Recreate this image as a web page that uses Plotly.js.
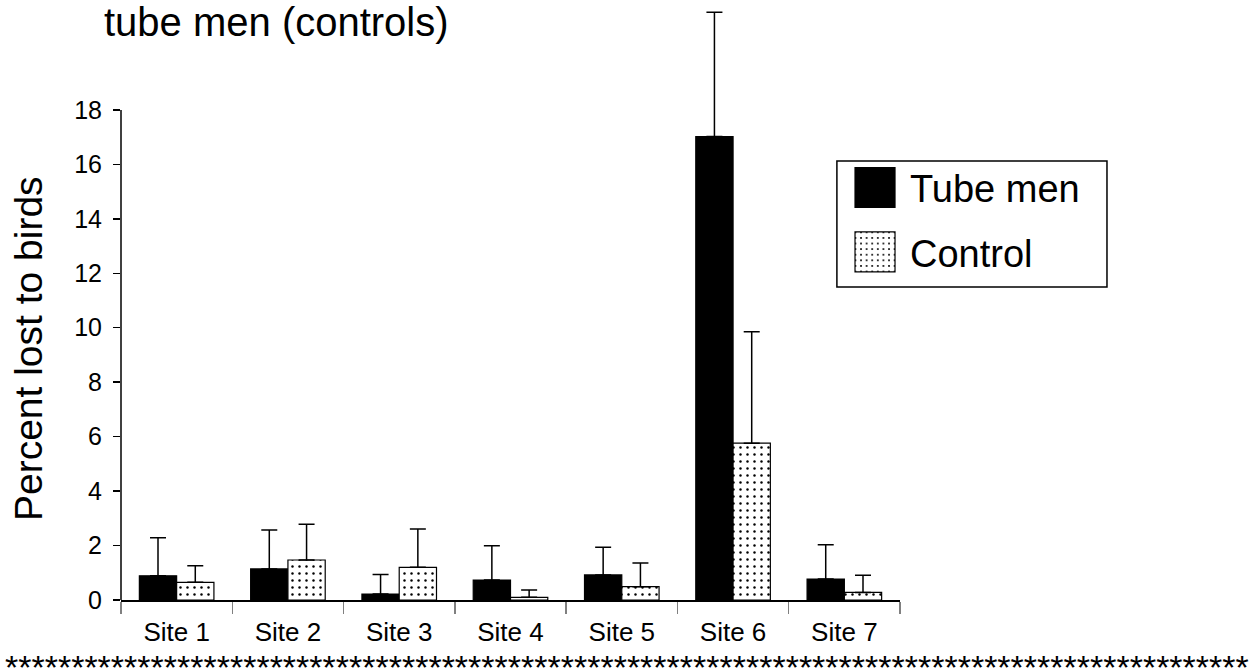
<!DOCTYPE html>
<html>
<head>
<meta charset="utf-8">
<script src="https://cdn.plot.ly/plotly-3.0.1.min.js"></script>
<style>
html, body { margin: 0; padding: 0; background: #fff; }
#chart { width: 1253px; height: 671px; }
</style>
</head>
<body>
<div id="chart"></div>
<script>
const sites = ['Site 1', 'Site 2', 'Site 3', 'Site 4', 'Site 5', 'Site 6', 'Site 7'];
const tubeMen = [0.89, 1.14, 0.22, 0.73, 0.92, 17.02, 0.77];
const tubeMenErr = [1.40, 1.43, 0.72, 1.26, 1.02, 4.57, 1.26];
const control = [0.65, 1.47, 1.20, 0.10, 0.49, 5.76, 0.28];
const controlErr = [0.61, 1.31, 1.41, 0.27, 0.87, 4.09, 0.63];
const yTicks = [0, 2, 4, 6, 8, 10, 12, 14, 16, 18];
const seriesNames = ['Tube men', 'Control'];
const chartTitle = 'tube men (controls)';
const yTitle = 'Percent lost to birds';
const separator = '**********************************************************************************************';

const FONT = '"Liberation Sans", Arial, Helvetica, sans-serif';
const yMax = yTicks[yTicks.length - 1];

const traces = [
  {
    type: 'bar', name: seriesNames[0], x: sites, y: tubeMen,
    legendgroup: 'a',
    marker: { color: '#000000', line: { color: '#000000', width: 1.2 } },
    error_y: { type: 'data', array: tubeMenErr, arrayminus: tubeMen.map(() => 0), symmetric: false,
               color: '#000000', thickness: 1.5, width: 8 },
    cliponaxis: false
  },
  {
    type: 'bar', name: seriesNames[1], x: sites, y: control,
    legendgroup: 'b',
    marker: { color: '#ffffff', line: { color: '#000000', width: 1.2 },
              pattern: { shape: '.', fgcolor: '#000000', bgcolor: '#ffffff', size: 7, solidity: 0.1 } },
    error_y: { type: 'data', array: controlErr, arrayminus: control.map(() => 0), symmetric: false,
               color: '#000000', thickness: 1.5, width: 8 },
    cliponaxis: false
  }
];

const layout = {
  width: 1253, height: 671,
  margin: { l: 121, r: 353, t: 10, b: 71 },
  paper_bgcolor: '#ffffff', plot_bgcolor: '#ffffff',
  font: { family: FONT, color: '#000000' },
  title: {
    text: chartTitle, font: { family: FONT, size: 40, color: '#000000' },
    xref: 'container', x: 0.083, xanchor: 'left',
    yref: 'container', y: 0.967, yanchor: 'middle'
  },
  barmode: 'group', bargap: 0.33, bargroupgap: 0,
  showlegend: true,
  legend: {
    x: 0.923, xanchor: 'left', y: 0.752, yanchor: 'top',
    xref: 'paper', yref: 'paper',
    bgcolor: 'rgba(0,0,0,0)', borderwidth: 0,
    font: { family: FONT, size: 38, color: '#000000' },
    itemwidth: 60, tracegroupgap: 12, traceorder: 'grouped'
  },
  xaxis: {
    type: 'category', tickson: 'boundaries', ticks: 'outside', ticklen: 12,
    tickcolor: '#808080', tickwidth: 1.5,
    showline: true, linecolor: '#000000', linewidth: 1.5,
    showgrid: false, zeroline: false,
    ticklabelstandoff: 8,
    tickfont: { family: FONT, size: 26, color: '#000000' }
  },
  yaxis: {
    range: [0, 21.67], tickvals: yTicks, ticktext: yTicks.map(String),
    ticks: 'outside', ticklen: 7, tickwidth: 1.5, tickcolor: '#000000',
    showline: false, showgrid: false, zeroline: false,
    ticklabelstandoff: 6,
    tickfont: { family: FONT, size: 25, color: '#000000' }
  },
  shapes: [
    { type: 'line', xref: 'paper', yref: 'y', x0: 0, x1: 0, y0: 0, y1: yMax,
      line: { color: '#000000', width: 1.5 } },
    { type: 'rect', xref: 'paper', yref: 'paper', x0: 0.919, x1: 1.2657, y0: 0.5305, y1: 0.744,
      line: { color: '#000000', width: 1.5 }, fillcolor: 'rgba(0,0,0,0)' }
  ],
  annotations: [
    {
      text: yTitle, textangle: -90, xref: 'paper', yref: 'paper', x: -0.1194, y: 0.427,
      xanchor: 'center', yanchor: 'middle', showarrow: false,
      font: { family: FONT, size: 39, color: '#000000' }
    },
    {
      text: separator, xref: 'paper', yref: 'paper', x: 0.649, y: -0.1136,
      xanchor: 'center', yanchor: 'middle', showarrow: false,
      font: { family: FONT, size: 34, color: '#000000' }
    }
  ]
};

function bigSwatches() {
  document.querySelectorAll('#chart .legendpoints path').forEach(function (p) {
    p.setAttribute('d', 'M20,20H-20V-20H20Z');
  });
}

const gd = document.getElementById('chart');
Plotly.newPlot(gd, traces, layout, { displayModeBar: false, staticPlot: true }).then(function () {
  bigSwatches();
  gd.on && gd.on('plotly_afterplot', bigSwatches);
  setTimeout(bigSwatches, 50);
});
</script>
</body>
</html>
